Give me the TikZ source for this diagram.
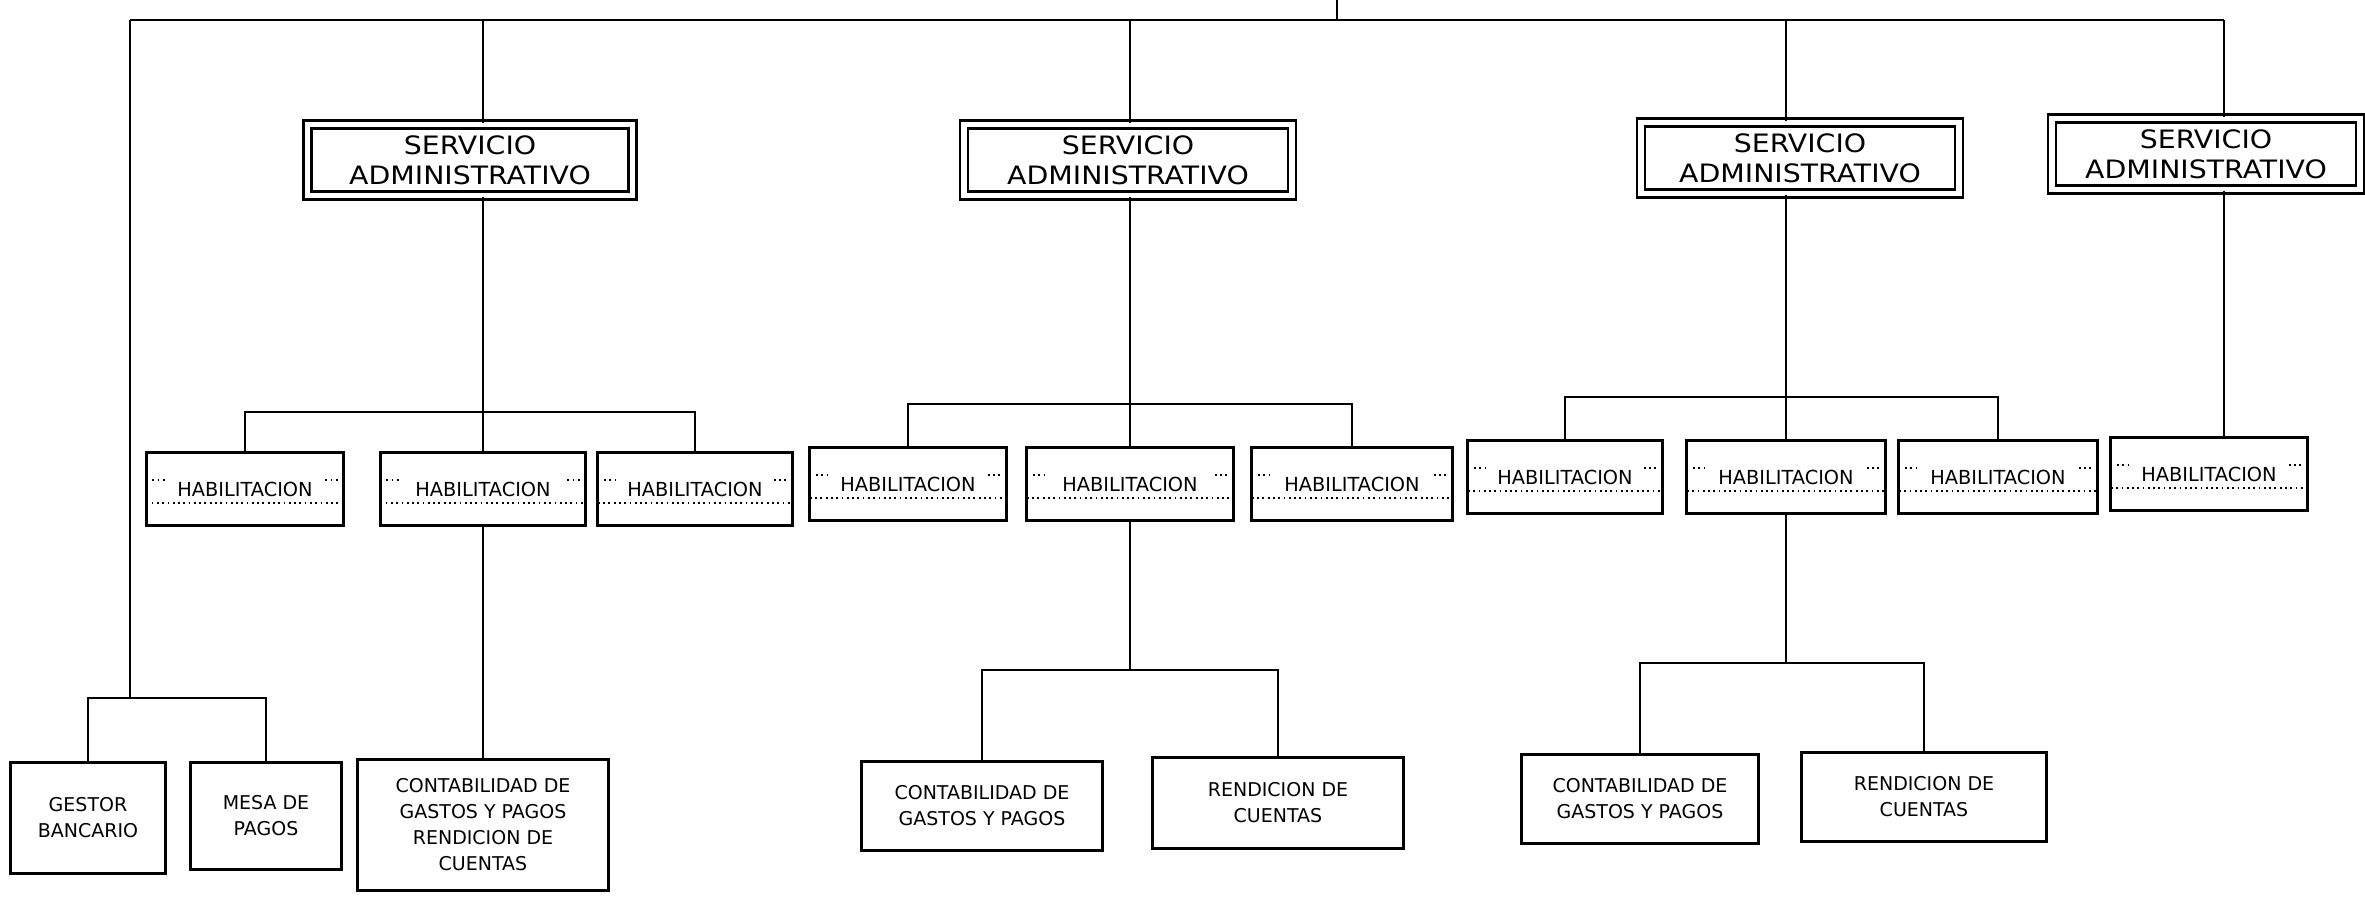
\documentclass[tikz,border=0pt]{standalone}
\usepackage{fontspec}
\newfontfamily\orgfont{DejaVu Sans}
\newfontfamily\servfont[FakeStretch=1.12]{DejaVu Sans}

\begin{document}
\begin{tikzpicture}[x=0.01cm, y=-0.01cm, line width=0.55pt,
	servbox/.style={draw, double, double distance=1.6pt, line width=0.7pt, minimum height=0.71cm, inner sep=2pt, align=center, font=\servfont\fontsize{7.2}{8.6}\selectfont},
	habbox/.style={draw, line width=0.85pt, minimum height=0.72cm, font=\orgfont\fontsize{5.5}{7}\selectfont,
		path picture={
			\draw[densely dotted, line width=0.5pt] ([yshift=-0.14cm]path picture bounding box.west) -- ([yshift=-0.14cm]path picture bounding box.east);
			\draw[densely dotted, line width=0.5pt] ([xshift=0.06cm, yshift=0.09cm]path picture bounding box.west) -- ++(0.14cm,0)
				([xshift=-0.06cm, yshift=0.09cm]path picture bounding box.east) -- ++(-0.14cm,0);
		}},
	unitbox/.style={draw, line width=0.85pt, align=center, font=\orgfont\fontsize{5.4}{7.4}\selectfont}]
	\useasboundingbox (0,0) rectangle (2365,898);

	\node[servbox, minimum width=3.25cm] (sa1) at (470,160) {SERVICIO\\ADMINISTRATIVO};
	\node[servbox, minimum width=3.28cm] (sa2) at (1128,160) {SERVICIO\\ADMINISTRATIVO};
	\node[servbox, minimum width=3.18cm] (sa3) at (1800,158) {SERVICIO\\ADMINISTRATIVO};
	\node[servbox, minimum width=3.08cm] (sa4) at (2206,154) {SERVICIO\\ADMINISTRATIVO};

	\node[habbox, minimum width=1.97cm] (ha1) at (245,489) {HABILITACION};
	\node[habbox, minimum width=2.05cm] (hb1) at (483,489) {HABILITACION};
	\node[habbox, minimum width=1.94cm] (hc1) at (695,489) {HABILITACION};
	\node[habbox, minimum width=1.96cm] (ha2) at (908,484) {HABILITACION};
	\node[habbox, minimum width=2.06cm] (hb2) at (1130,484) {HABILITACION};
	\node[habbox, minimum width=2.00cm] (hc2) at (1352,484) {HABILITACION};
	\node[habbox, minimum width=1.94cm] (ha3) at (1565,477) {HABILITACION};
	\node[habbox, minimum width=1.98cm] (hb3) at (1786,477) {HABILITACION};
	\node[habbox, minimum width=1.98cm] (hc3) at (1998,477) {HABILITACION};
	\node[habbox, minimum width=1.96cm] (ha4) at (2209,474) {HABILITACION};

	\node[unitbox, minimum width=1.55cm, minimum height=1.10cm] (gb) at (88,818) {GESTOR\\BANCARIO};
	\node[unitbox, minimum width=1.50cm, minimum height=1.07cm] (mp) at (266,816) {MESA DE\\PAGOS};
	\node[unitbox, minimum width=2.50cm, minimum height=1.30cm] (ca1) at (483,825) {CONTABILIDAD DE\\GASTOS Y PAGOS\\RENDICION DE\\CUENTAS};
	\node[unitbox, minimum width=2.40cm, minimum height=0.88cm] (ca2) at (982,806) {CONTABILIDAD DE\\GASTOS Y PAGOS};
	\node[unitbox, minimum width=2.50cm, minimum height=0.90cm] (ra2) at (1278,803) {RENDICION DE\\CUENTAS};
	\node[unitbox, minimum width=2.36cm, minimum height=0.88cm] (ca3) at (1640,799) {CONTABILIDAD DE\\GASTOS Y PAGOS};
	\node[unitbox, minimum width=2.44cm, minimum height=0.89cm] (ra3) at (1924,797) {RENDICION DE\\CUENTAS};

	\coordinate (root) at (1337,0);
	\coordinate (tl) at (130,20);
	\coordinate (tr) at (2224,20);
	\coordinate (b0) at (130,698);
	\coordinate (b1) at (0,412);
	\coordinate (b2) at (0,404);
	\coordinate (b3) at (0,397);
	\coordinate (c2) at (0,670);
	\coordinate (c3) at (0,663);

	\draw (tl) -- (tr);
	\draw (root) -- (root |- tl);
	\draw (hb1.north |- tl) -- (hb1.north |- sa1.north);
	\draw (hb2.north |- tl) -- (hb2.north |- sa2.north);
	\draw (hb3.north |- tl) -- (hb3.north |- sa3.north);
	\draw (tr) -- (tr |- sa4.north);

	\draw (tl) -- (b0);
	\draw (gb.north) -- (gb.north |- b0) -- (mp.north |- b0) -- (mp.north);

	\draw (hb1.north |- sa1.south) -- (hb1.north);
	\draw (ha1.north) -- (ha1.north |- b1) -- (hc1.north |- b1) -- (hc1.north);
	\draw (hb1.south) -- (ca1.north);

	\draw (hb2.north |- sa2.south) -- (hb2.north);
	\draw (ha2.north) -- (ha2.north |- b2) -- (hc2.north |- b2) -- (hc2.north);
	\draw (hb2.south) -- (hb2.south |- c2);
	\draw (ca2.north) -- (ca2.north |- c2) -- (ra2.north |- c2) -- (ra2.north);

	\draw (hb3.north |- sa3.south) -- (hb3.north);
	\draw (ha3.north) -- (ha3.north |- b3) -- (hc3.north |- b3) -- (hc3.north);
	\draw (hb3.south) -- (hb3.south |- c3);
	\draw (ca3.north) -- (ca3.north |- c3) -- (ra3.north |- c3) -- (ra3.north);

	\draw (tr |- sa4.south) -- (tr |- ha4.north);
\end{tikzpicture}
\end{document}
